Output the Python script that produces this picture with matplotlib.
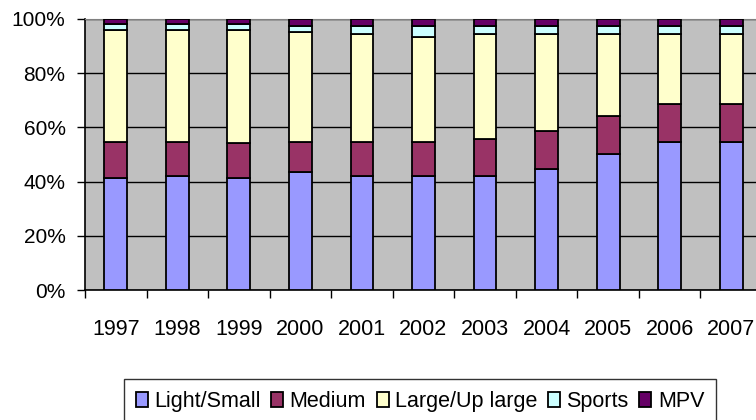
import numpy as np
import matplotlib.pyplot as plt
from matplotlib.ticker import FixedLocator, FuncFormatter

plt.rcParams['font.family'] = ['Liberation Sans', 'DejaVu Sans']

years = ["1997", "1998", "1999", "2000", "2001", "2002",
         "2003", "2004", "2005", "2006", "2007"]

# market share by segment (%), bottom to top of each stack
light_small = [41.2, 42.1, 41.2, 43.7, 42.1, 42.1, 42.1, 44.5, 50.1, 54.5, 54.5]
medium = [13.5, 12.6, 12.9, 11.0, 12.6, 12.6, 13.5, 14.3, 14.1, 14.1, 14.1]
large_up = [41.2, 41.2, 41.8, 40.4, 39.6, 38.8, 38.7, 35.5, 30.1, 25.7, 25.7]
sports = [2.3, 2.3, 2.3, 2.4, 3.1, 4.0, 3.2, 3.2, 3.2, 3.2, 3.2]
mpv = [1.8, 1.8, 1.8, 2.5, 2.6, 2.5, 2.5, 2.5, 2.5, 2.5, 2.5]

series = [
    ("Light/Small", light_small, "#9999FF"),
    ("Medium", medium, "#993366"),
    ("Large/Up large", large_up, "#FFFFCC"),
    ("Sports", sports, "#CCFFFF"),
    ("MPV", mpv, "#660066"),
]

fig = plt.figure(figsize=(7.56, 4.2), dpi=100)
ax = fig.add_axes([85 / 756, 130 / 420, 677 / 756, 271 / 420])
ax.set_facecolor("#C0C0C0")

x = np.arange(len(years))
bottom = np.zeros(len(years))
for name, vals, col in series:
    vals = np.array(vals, dtype=float)
    ax.bar(x, vals, width=0.37, bottom=bottom, color=col,
           edgecolor="black", linewidth=1.3, label=name, zorder=3)
    bottom += vals

ax.set_xlim(-0.5, len(years) - 0.5)
ax.set_ylim(0, 100)

# horizontal gridlines every 20%
ax.set_yticks(np.arange(0, 101, 20))
ax.yaxis.set_major_formatter(FuncFormatter(lambda v, p: f"{v:.0f}%"))
ax.grid(axis="y", color="black", linewidth=1.0, zorder=1)
ax.tick_params(axis="y", length=6, width=1, pad=8, labelsize=15)

# year labels centred, tick marks between categories
ax.set_xticks(x)
ax.set_xticklabels(years, fontsize=15.5)
ax.xaxis.set_minor_locator(FixedLocator(np.arange(-0.5, len(years), 1.0)))
ax.tick_params(axis="x", which="major", length=0, pad=21)
ax.tick_params(axis="x", which="minor", length=6, width=1)

for side in ["left", "bottom"]:
    ax.spines[side].set_color("black")
    ax.spines[side].set_linewidth(1.2)
ax.spines["top"].set_color("#808080")
ax.spines["right"].set_visible(False)

leg = fig.legend(loc="upper center", bbox_to_anchor=(420 / 756, 1 - 379 / 420),
                 ncol=5, frameon=True, fontsize=15.5, fancybox=False,
                 handlelength=0.55, handleheight=0.7, handletextpad=0.3,
                 columnspacing=0.5, borderpad=0.55, borderaxespad=0)
leg.get_frame().set_edgecolor("black")
leg.get_frame().set_linewidth(1.0)

fig.savefig("out.png", dpi=100)
